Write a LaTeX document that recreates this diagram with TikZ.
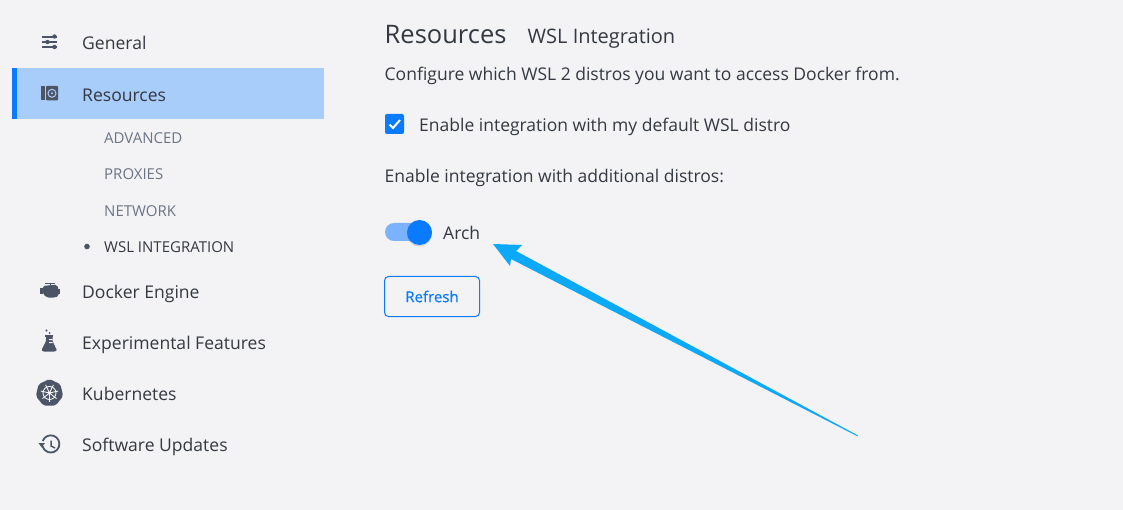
\documentclass[tikz,border=0pt]{standalone}
\usepackage{fontspec}
\setmainfont{Open Sans}
\newfontfamily\medio[FakeBold=0.6]{Open Sans}
\usetikzlibrary{shapes.geometric}
\definecolor{fondo}{HTML}{F3F3F6}
\definecolor{azul}{HTML}{0A7AFF}
\definecolor{azulclaro}{HTML}{A8CDFA}
\definecolor{pista}{HTML}{7AB3FB}
\definecolor{flecha}{HTML}{0BA9F7}
\definecolor{icono}{HTML}{4B5566}
\definecolor{texto}{HTML}{343841}
\definecolor{gris}{HTML}{6B7585}
\tikzset{
  etiqueta/.style={anchor=base west,inner sep=0pt,text=texto,font=\fontsize{17.55}{18}\selectfont},
  subitem/.style={anchor=base west,inner sep=0pt,text=gris,font=\fontsize{15}{15}\selectfont},
  cuerpo/.style={anchor=base west,inner sep=0pt,text=texto,font=\fontsize{17.5}{17}\selectfont},
  trazo/.style={draw=icono,line width=1.3pt}
}
\begin{document}
\begin{tikzpicture}[x=1pt,y=-1pt]
        \fill[fondo] (0,0) rectangle (1123,510);
        \useasboundingbox (0,0) rectangle (1123,510);

        % Fila seleccionada
        \fill[azulclaro] (12,68) rectangle (324,119);
        \fill[azul] (12,68) rectangle (17,119);

        % Menu lateral
        \foreach \nombre/\y/\txt in {general/49.5/General,resources/101.5/Resources,engine/298.5/Docker Engine,
            experimental/349.5/Experimental Features,kubernetes/400.5/Kubernetes,updates/451.5/Software Updates}
            \node[etiqueta] (\nombre) at (82,\y) {\txt};
        \foreach \nombre/\y/\txt in {advanced/143.5/ADVANCED,proxies/179.5/PROXIES,network/216.5/NETWORK}
            \node[subitem] (\nombre) at (104,\y) {\txt};
        \node[subitem,text=texto] (wsl) at (104,252.5) {WSL INTEGRATION};
        \fill[icono] (87,246.5) circle (2.8);

        % Icono general
        \foreach \y in {37,42,47} \draw[icono,line width=1.1pt] (42,\y) -- (57,\y);
        \fill[icono] (54.5,36.5) circle (2.2) (47.5,42) circle (2.2) (54.5,47) circle (2.2);

        % Icono resources
        \fill[icono] (41.3,86) rectangle (44.7,100.5);
        \fill[icono,rounded corners=1pt] (46,86) rectangle (58,100.5);
        \draw[azulclaro,line width=1pt] (52,93.3) circle (4);
        \fill[azulclaro] (52,93.3) circle (1.2);

        % Icono motor
        \fill[icono,rounded corners=1.5pt] (43,286) -- (52,285) -- (57,285) -- (58.5,289) -- (58.5,296) -- (55,297.5) -- (47,297.5) -- (43,294) -- cycle;
        \fill[icono] (39.5,288.5) rectangle (43,294.5);
        \fill[icono] (45,283) rectangle (55,284.5);
        \fill[icono] (49.5,283) rectangle (51,286);
        \fill[icono] (58,289.5) rectangle (60,294);

        % Icono matraz
        \fill[icono,rounded corners=1pt] (46,336) -- (52.5,336) -- (52.5,341) -- (57,350.5) -- (55,351.5) -- (43,351.5) -- (41.5,350) -- (46,341) -- cycle;
        \fill[icono] (45,335) rectangle (53,336.5);
        \fill[icono] (46.5,330.5) circle (1.1) (49.5,333) circle (1);
        \fill[fondo] (49,339) rectangle (52.5,340) (49,342) rectangle (52.5,343);

        % Icono kubernetes
        \node[regular polygon,regular polygon sides=7,fill=icono,minimum size=28,inner sep=0pt,rounded corners=2pt] (heptagono) at (49.5,393) {};
        \draw[white,line width=.8pt] (49.5,393) circle (6.5);
        \foreach \a in {90,141.4,192.9,244.3,295.7,347.1,38.6}
            \draw[white,line width=.8pt] (49.5,393) -- ++(\a:9);
        \fill[white] (49.5,393) circle (1.6);

        % Icono actualizaciones
        \draw[trazo,line width=1.8pt] (42.7,441) arc (-160:165:8.6);
        \fill[icono] (38.5,443) -- (45,443) -- (41.7,447.5) -- cycle;
        \draw[trazo,line width=1.5pt] (51,440.5) -- (51,446) -- (55,448);

        % Panel derecho
        \node[anchor=base west,inner sep=0pt,text=texto,font=\fontsize{25.5}{26}\selectfont] (titulo) at (384.5,43.5) {Resources};
        \node[anchor=base west,inner sep=0pt,text=texto,font=\fontsize{20}{20}\selectfont] (subtitulo) at (527.5,43.5) {WSL Integration};
        \node[cuerpo] (configure) at (384.5,80.5) {Configure which WSL 2 distros you want to access Docker from.};
        \node[cuerpo] (default) at (419,131.5) {Enable integration with my default WSL distro};
        \node[cuerpo] (additional) at (384.5,182.5) {Enable integration with additional distros:};
        \node[cuerpo] (arch) at (443,239.5) {Arch};

        % Casilla
        \fill[azul,rounded corners=2pt] (385,114) rectangle (404,134);
        \draw[white,line width=2pt] (389.5,124.5) -- (393,128) -- (400,120);

        % Interruptor
        \fill[pista,rounded corners=9pt] (385,223) rectangle (425,241);
        \fill[black,opacity=.12] (419.5,234) circle (12.6);
        \fill[azul] (419.5,232.5) circle (12.5);

        % Boton
        \node[draw=azul,line width=1pt,rounded corners=4pt,minimum width=95,minimum height=40,inner sep=0pt,
            text=azul,font=\fontsize{15}{15}\medio] (refresh) at (432,296.5) {Refresh};

        % Flecha
        \coordinate (punta) at (493,244);
        \coordinate (cola) at (858,435.5);
        \fill[flecha] (cola) -- (516,251) -- (522,245) -- (punta) -- (510,266) -- (511,259) -- (857.5,436.3) -- cycle;
\end{tikzpicture}
\end{document}
